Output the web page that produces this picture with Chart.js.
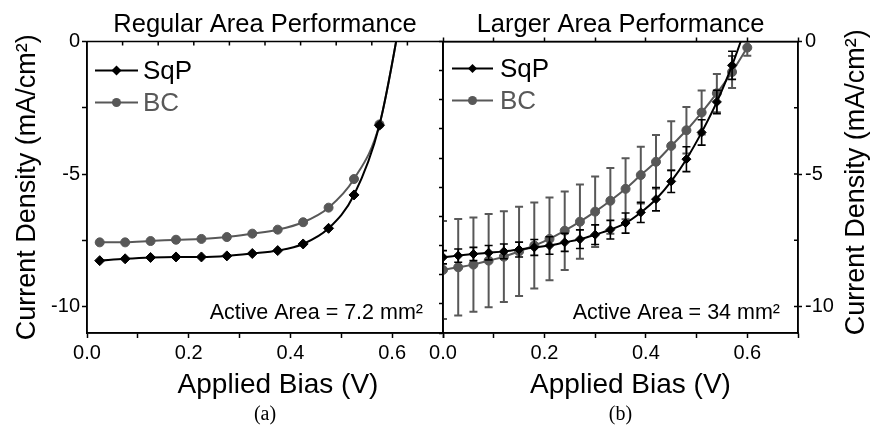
<!DOCTYPE html>
<html>
<head>
<meta charset="utf-8">
<script src="https://cdn.jsdelivr.net/npm/chart.js@4.4.1/dist/chart.umd.min.js"></script>
<style>
html,body{margin:0;padding:0;background:#ffffff;}
#wrap{position:relative;width:875px;height:425px;overflow:hidden;background:#fff;}
#wrap canvas{position:absolute;left:0;top:0;}
</style>
</head>
<body>
<div id="wrap">
<canvas id="chartA" width="875" height="425"></canvas>
<canvas id="chartB" width="875" height="425"></canvas>
</div>
<script>
// ---------------- data ----------------
const regularBias = [0.025, 0.075, 0.125, 0.175, 0.225, 0.275, 0.325, 0.375, 0.425, 0.475, 0.525, 0.575, 0.625];
const regularSqP  = [-8.27, -8.20, -8.15, -8.13, -8.13, -8.09, -8.00, -7.89, -7.64, -7.05, -5.79, -3.16, 1.80];
const regularBC   = [-7.58, -7.58, -7.53, -7.48, -7.45, -7.38, -7.25, -7.10, -6.82, -6.27, -5.19, -3.13, 1.80];

const largerBias   = [0.00, 0.03, 0.06, 0.09, 0.12, 0.15, 0.18, 0.21, 0.24, 0.27, 0.30, 0.33, 0.36, 0.39, 0.42, 0.45, 0.48, 0.51, 0.54, 0.57, 0.60];
const largerSqP    = [-8.14, -8.08, -8.02, -7.97, -7.92, -7.85, -7.77, -7.70, -7.58, -7.46, -7.29, -7.10, -6.85, -6.45, -5.95, -5.28, -4.44, -3.43, -2.28, -0.90, 0.70];
const largerSqPErr = [0.25, 0.25, 0.25, 0.27, 0.28, 0.28, 0.30, 0.33, 0.34, 0.35, 0.37, 0.35, 0.38, 0.38, 0.44, 0.42, 0.47, 0.48, 0.44, 0.53, 0.50];
const largerBC     = [-8.62, -8.52, -8.42, -8.27, -8.12, -7.92, -7.70, -7.45, -7.14, -6.80, -6.42, -6.01, -5.56, -5.04, -4.54, -3.94, -3.35, -2.68, -1.95, -1.15, -0.23];
const largerBCErr  = [1.85, 1.82, 1.78, 1.76, 1.71, 1.68, 1.62, 1.56, 1.48, 1.40, 1.33, 1.24, 1.15, 1.07, 1.01, 0.93, 0.88, 0.83, 0.72, 0.60, 0.31];

const seriesNames  = ['SqP', 'BC'];
const xTickLabels  = ['0.0', '0.2', '0.4', '0.6'];
const yTickLabels  = ['0', '-5', '-10'];
const panelTitles  = ['Regular Area Performance', 'Larger Area Performance'];
const panelTags    = ['(a)', '(b)'];
const areaNotes    = ['Active Area = 7.2 mm\u00B2', 'Active Area = 34 mm\u00B2'];
const xAxisTitle   = 'Applied Bias (V)';
const yAxisTitle   = 'Current Density (mA/cm\u00B2)';

// ---------------- style ----------------
const FONT = "'Liberation Sans', Arial, Helvetica, sans-serif";
const BLACK = '#000000';
const GRAY = '#585858';
Chart.defaults.font.family = FONT;
Chart.defaults.color = BLACK;

function marker(ctx, style, r, x, y) {
  ctx.beginPath();
  if (style === 'rectRot') {
    ctx.moveTo(x, y - r); ctx.lineTo(x + r, y); ctx.lineTo(x, y + r); ctx.lineTo(x - r, y); ctx.closePath();
  } else {
    ctx.arc(x, y, r, 0, Math.PI * 2);
  }
  ctx.fill();
}

const decorPlugin = {
  id: 'panelDecor',
  beforeDatasetDraw(chart, args, opts) {
    const ds = chart.data.datasets[args.index];
    if (!ds.errorValues) return;
    const ctx = chart.ctx, a = chart.chartArea;
    const xs = chart.scales.x, ys = chart.scales.y;
    ctx.save();
    ctx.beginPath(); ctx.rect(a.left, a.top, a.right - a.left, a.bottom - a.top); ctx.clip();
    ctx.strokeStyle = ds.borderColor; ctx.lineWidth = ds.errorWidth;
    const cap = 4;
    ds.data.forEach((p, i) => {
      const e = ds.errorValues[i];
      const px = xs.getPixelForValue(p.x);
      const yT = ys.getPixelForValue(p.y + e), yB = ys.getPixelForValue(p.y - e);
      ctx.beginPath();
      ctx.moveTo(px, yT); ctx.lineTo(px, yB);
      ctx.moveTo(px - cap, yT); ctx.lineTo(px + cap, yT);
      ctx.moveTo(px - cap, yB); ctx.lineTo(px + cap, yB);
      ctx.stroke();
    });
    ctx.restore();
  },
  afterDatasetsDraw(chart, args, opts) {
    const ctx = chart.ctx, a = chart.chartArea;
    const xs = chart.scales.x, ys = chart.scales.y;
    ctx.save();
    ctx.strokeStyle = BLACK; ctx.lineWidth = 1.5;
    ctx.strokeRect(a.left, a.top, a.right - a.left, a.bottom - a.top);
    ctx.beginPath();
    if (opts.topInner) {
      for (let k = 1; k < 10; k++) {
        const px = xs.getPixelForValue(xs.min + k * (xs.max - xs.min) / 10);
        ctx.moveTo(px, a.top); ctx.lineTo(px, a.top + 4);
      }
    }
    if (opts.rightInner) {
      [-2.5, -5, -7.5, -10].forEach(v => {
        const py = ys.getPixelForValue(v);
        ctx.moveTo(a.right, py); ctx.lineTo(a.right - 4, py);
      });
    }
    ctx.stroke();
    ctx.restore();
  },
  afterDraw(chart, args, opts) {
    const ctx = chart.ctx, a = chart.chartArea;
    ctx.save();
    // legend inside the plot
    const lg = opts.legend;
    chart.data.datasets.forEach((ds, i) => {
      const y = a.top + lg.dy + i * lg.gap;
      const x0 = a.left + lg.dx;
      ctx.strokeStyle = ds.borderColor; ctx.lineWidth = ds.borderWidth;
      ctx.beginPath(); ctx.moveTo(x0, y); ctx.lineTo(x0 + lg.len, y); ctx.stroke();
      ctx.fillStyle = ds.backgroundColor;
      marker(ctx, ds.pointStyle, ds.pointRadius, x0 + lg.len / 2, y);
      ctx.font = '26px ' + FONT; ctx.textAlign = 'left'; ctx.textBaseline = 'middle';
      ctx.fillStyle = ds.borderColor;
      ctx.fillText(ds.label, x0 + lg.len + lg.tgap, y + 1);
    });
    // active area note
    ctx.fillStyle = BLACK;
    ctx.font = '21.5px ' + FONT; ctx.textAlign = 'right'; ctx.textBaseline = 'middle';
    ctx.fillText(opts.note, a.right - opts.noteRight, a.bottom - 20);
    // x axis title
    ctx.font = '28px ' + FONT; ctx.textAlign = 'center'; ctx.textBaseline = 'middle';
    ctx.fillText(xAxisTitle, (a.left + a.right) / 2 + opts.xTitleShift, a.bottom + 52);
    // right-side y title (reads bottom-to-top)
    if (opts.rightTitle) {
      ctx.translate(a.right + 59, (a.top + a.bottom) / 2 - 5);
      ctx.rotate(-Math.PI / 2);
      ctx.font = '27px ' + FONT; ctx.textAlign = 'center'; ctx.textBaseline = 'middle';
      ctx.fillText(yAxisTitle, 0, 0);
    }
    ctx.restore();
  }
};

function datasets(bias, sqp, bc, sqpErr, bcErr, rD, rC) {
  return [
    { label: seriesNames[0], data: bias.map((x, i) => ({ x, y: sqp[i] })),
      borderColor: BLACK, backgroundColor: BLACK, borderWidth: 2,
      pointStyle: 'rectRot', pointRadius: rD, pointHoverRadius: rD, pointBorderWidth: 1,
      cubicInterpolationMode: 'monotone', clip: 0, errorValues: sqpErr, errorWidth: 1.6 },
    { label: seriesNames[1], data: bias.map((x, i) => ({ x, y: bc[i] })),
      borderColor: GRAY, backgroundColor: GRAY, borderWidth: 2,
      pointStyle: 'circle', pointRadius: rC, pointHoverRadius: rC, pointBorderWidth: 1,
      cubicInterpolationMode: 'monotone', clip: 0, errorValues: bcErr, errorWidth: 2 }
  ];
}

const gridCfg = (len, color) => ({ drawOnChartArea: false, drawTicks: true, tickLength: len, tickColor: color || BLACK, tickWidth: 1.5 });
const borderCfg = { display: true, color: BLACK, width: 1.5 };

function xBottom() {
  return {
    type: 'linear', position: 'bottom', min: 0, max: 0.7,
    afterFit: s => { s.height = 69; },
    ticks: { stepSize: 0.1, includeBounds: false, autoSkip: false, maxRotation: 0, padding: 3,
      font: { size: 20 }, color: BLACK,
      callback: v => { const s = Number(v).toFixed(1); return xTickLabels.includes(s) ? s : ''; } },
    grid: gridCfg(5), border: borderCfg, title: { display: false }
  };
}
function yTicks(pad) {
  return { stepSize: 2.5, includeBounds: false, padding: pad, font: { size: 20 }, color: BLACK,
    callback: v => { const s = String(Math.round(v * 10) / 10); return yTickLabels.includes(s) ? s : ''; } };
}
function titleCfg(i, bottomPad) {
  return { display: true, text: panelTitles[i], fullSize: false, color: BLACK,
    font: { size: 25.5, weight: 'normal', lineHeight: 1 }, padding: { top: 12.5, bottom: bottomPad } };
}
function tagCfg(i) {
  return { display: true, position: 'bottom', text: panelTags[i], fullSize: false, color: BLACK,
    font: { family: "'Liberation Serif', 'DejaVu Serif', serif", size: 20, weight: 'normal', lineHeight: 1 },
    padding: { top: 3, bottom: 0 } };
}

new Chart(document.getElementById('chartA'), {
  type: 'line',
  data: { datasets: datasets(regularBias, regularSqP, regularBC, null, null, 5, 4.5) },
  options: {
    responsive: false, animation: false, events: [],
    layout: { padding: { left: 0, right: 432, top: 0, bottom: 0 } },
    scales: {
      x: xBottom(),
      y: { type: 'linear', position: 'left', min: -11, max: 0,
        afterFit: s => { s.width = 87; },
        ticks: yTicks(2), grid: gridCfg(5), border: borderCfg,
        title: { display: true, text: yAxisTitle, color: BLACK, font: { size: 27 }, padding: { top: 11, bottom: 0 } } }
    },
    plugins: {
      legend: { display: false }, tooltip: { enabled: false },
      title: titleCfg(0, 3.5), subtitle: tagCfg(0),
      panelDecor: { topInner: true, rightInner: false, rightTitle: false,
        legend: { dx: 8, dy: 29, gap: 32, len: 43, tgap: 5 }, note: areaNotes[0], noteRight: 20, xTitleShift: 13 }
    }
  },
  plugins: [decorPlugin]
});

new Chart(document.getElementById('chartB'), {
  type: 'line',
  data: { datasets: datasets(largerBias, largerSqP, largerBC, largerSqPErr, largerBCErr, 4.5, 4.5) },
  options: {
    responsive: false, animation: false, events: [],
    layout: { padding: { left: 437, right: 0, top: 0, bottom: 0 } },
    scales: {
      x: xBottom(),
      x2: { type: 'linear', position: 'top', min: 0, max: 0.7,
        afterFit: s => { s.height = 3; },
        ticks: { display: false, stepSize: 0.1, includeBounds: false },
        grid: gridCfg(4), border: borderCfg },
      y: { type: 'linear', position: 'right', min: -11, max: 0,
        afterFit: s => { s.width = 77; },
        ticks: yTicks(3),
        grid: { drawOnChartArea: false, drawTicks: true, tickLength: 4, tickWidth: 1.5,
          tickColor: c => (c.tick && c.tick.value % 5 === 0) ? BLACK : 'rgba(0,0,0,0)' },
        border: borderCfg, title: { display: false } },
      y2: { type: 'linear', position: 'left', min: 0, max: 10,
        afterFit: s => { s.width = 6; },
        ticks: { display: false, stepSize: 1, includeBounds: false },
        grid: gridCfg(4), border: borderCfg }
    },
    plugins: {
      legend: { display: false }, tooltip: { enabled: false },
      title: titleCfg(1, 0.5), subtitle: tagCfg(1),
      panelDecor: { topInner: false, rightInner: true, rightTitle: true,
        legend: { dx: 9, dy: 27, gap: 32, len: 41, tgap: 7 }, note: areaNotes[1], noteRight: 18, xTitleShift: 10 }
    }
  },
  plugins: [decorPlugin]
});
</script>
</body>
</html>
